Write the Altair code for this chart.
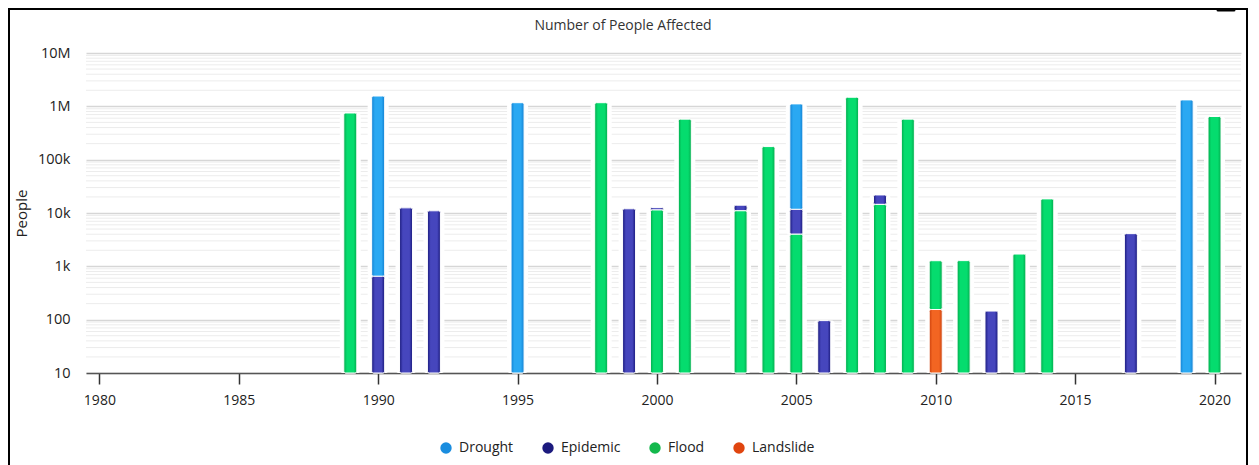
import altair as alt
import pandas as pd

# ---- data ----
years = [1989, 1990, 1990, 1991, 1992, 1995, 1998, 1999, 2000, 2000, 2001,
         2003, 2003, 2004, 2005, 2005, 2005, 2006, 2007, 2008, 2008, 2009,
         2010, 2010, 2011, 2012, 2013, 2014, 2017, 2019, 2020]
types = ["Flood", "Epidemic", "Drought", "Epidemic", "Epidemic", "Drought",
         "Flood", "Epidemic", "Flood", "Epidemic", "Flood",
         "Flood", "Epidemic", "Flood", "Flood", "Epidemic", "Drought",
         "Epidemic", "Flood", "Flood", "Epidemic", "Flood",
         "Landslide", "Flood", "Flood", "Epidemic", "Flood", "Flood",
         "Epidemic", "Drought", "Flood"]
people = [750000, 650, 1560000, 12500, 11000, 1170000,
          1170000, 12000, 11400, 1200, 575000,
          11000, 3000, 176000, 4000, 7700, 1100000,
          96, 1480000, 14500, 7300, 575000,
          155, 1120, 1280, 145, 1700, 18400,
          4100, 1320000, 645000]

categories = ["Drought", "Epidemic", "Flood", "Landslide"]
legend_colors = ["#1a8ddf", "#1c1a7e", "#13b84c", "#e0450f"]
light_colors = ["#2aa8f2", "#4646bd", "#05dc6e", "#f26522"]
dark_colors = ["#1280d2", "#18187a", "#03aa4c", "#cc400c"]
stack_order = ["Landslide", "Flood", "Epidemic", "Drought"]

x_ticks = [1980, 1985, 1990, 1995, 2000, 2005, 2010, 2015, 2020]
y_ticks = [10, 100, 1000, 10000, 100000, 1000000, 10000000]
minor_ticks = [m * 10 ** e for e in range(1, 7) for m in range(2, 10)]
chart_title = "Number of People Affected"

df = pd.DataFrame({"Year": years, "Type": types, "People": people})
minor_df = pd.DataFrame({"v": minor_ticks})

W, H = 1155, 320
xscale = alt.Scale(domain=[1979.52, 2020.95], nice=False, zero=False, padding=0)
yscale = alt.Scale(type="log", domain=[10, 10000000], nice=False)

x_enc = alt.X("Year:Q", scale=xscale,
              axis=alt.Axis(values=x_ticks, format="d", title=None, grid=False,
                            tickSize=11, tickWidth=1.5, tickColor="#333",
                            domainColor="#555", domainWidth=1.5,
                            labelFont="Open Sans", labelFontSize=14,
                            labelColor="#222", labelPadding=9))
y_axis = alt.Axis(values=y_ticks, title="People",
                  labelExpr="datum.value >= 1000000 ? (datum.value/1000000) + 'M' : datum.value >= 1000 ? (datum.value/1000) + 'k' : datum.value",
                  grid=True, gridColor="#d6d6d6", gridWidth=1.5,
                  ticks=False, tickSize=0, domain=False,
                  labelFont="Open Sans", labelFontSize=14.5, labelColor="#222",
                  labelPadding=16, titleFont="Open Sans", titleFontSize=15,
                  titleFontWeight="normal", titleColor="#222",
                  titleX=-65, titleY=160, titleAngle=270,
                  titleAlign="center", titleBaseline="middle")

minor = alt.Chart(minor_df).mark_rule(color="#ececec", strokeWidth=1).encode(
    y=alt.Y("v:Q", scale=yscale, title="People", axis=y_axis),
    x=alt.value(0), x2=alt.value(W))

base = alt.Chart(df).transform_calculate(
    order="indexof(" + str(stack_order) + ", datum.Type)"
).transform_stack(
    stack="People", groupby=["Year"], as_=["s0", "s1"],
    sort=[alt.SortField("order", order="ascending")]
).transform_calculate(y0="max(datum.s0, 10)").encode(
    x=x_enc,
    y=alt.Y("y0:Q", scale=yscale, title="People", axis=y_axis),
    y2="s1:Q")

halo = base.mark_bar(size=21, color="white", cornerRadius=3)

solid = base.mark_bar(size=13, stroke="white", strokeWidth=1, cornerRadius=2).encode(
    color=alt.Color("Type:N",
                    scale=alt.Scale(domain=categories, range=legend_colors),
                    legend=alt.Legend(title=None, orient="none", direction="horizontal",
                                      legendX=353, legendY=388, symbolType="circle",
                                      symbolSize=130, symbolStrokeWidth=0,
                                      labelFont="Open Sans", labelFontSize=14,
                                      labelColor="#222", columnPadding=27,
                                      labelOffset=6, padding=0)))

grads = []
for cat, lc, dc in zip(categories, light_colors, dark_colors):
    g = alt.Gradient(gradient="linear", x1=0, x2=1, y1=0, y2=0,
                     stops=[alt.GradientStop(color=dc, offset=0),
                            alt.GradientStop(color=lc, offset=0.25),
                            alt.GradientStop(color=lc, offset=0.75),
                            alt.GradientStop(color=dc, offset=1)])
    grads.append(base.transform_filter(alt.datum.Type == cat).mark_bar(
        size=13, fill=g, stroke="white", strokeWidth=1, cornerRadius=2))

deco = alt.Data(values=[{"k": 1}])
frame = alt.Chart(deco).mark_rect(filled=False, stroke="black", strokeWidth=2).encode(
    x=alt.value(-77), x2=alt.value(1161), y=alt.value(-44), y2=alt.value(420))
dash = alt.Chart(deco).mark_rule(stroke="black", strokeWidth=3, strokeCap="round").encode(
    x=alt.value(1132), x2=alt.value(1148), y=alt.value(-43), y2=alt.value(-43))
title = alt.Chart(deco).mark_text(font="Open Sans", fontSize=14, color="#333",
                                  align="center", baseline="middle").encode(
    x=alt.value(537), y=alt.value(-27), text=alt.value(chart_title))

chart = alt.layer(minor, halo, solid, *grads, frame, dash, title).properties(
    width=W, height=H,
    padding={"left": 78, "top": 45, "right": 8, "bottom": 92},
    autosize=alt.AutoSizeParams(type="none"),
).configure_view(stroke=None)

chart.save("out.html", embed_options={"renderer": "svg", "actions": False})
